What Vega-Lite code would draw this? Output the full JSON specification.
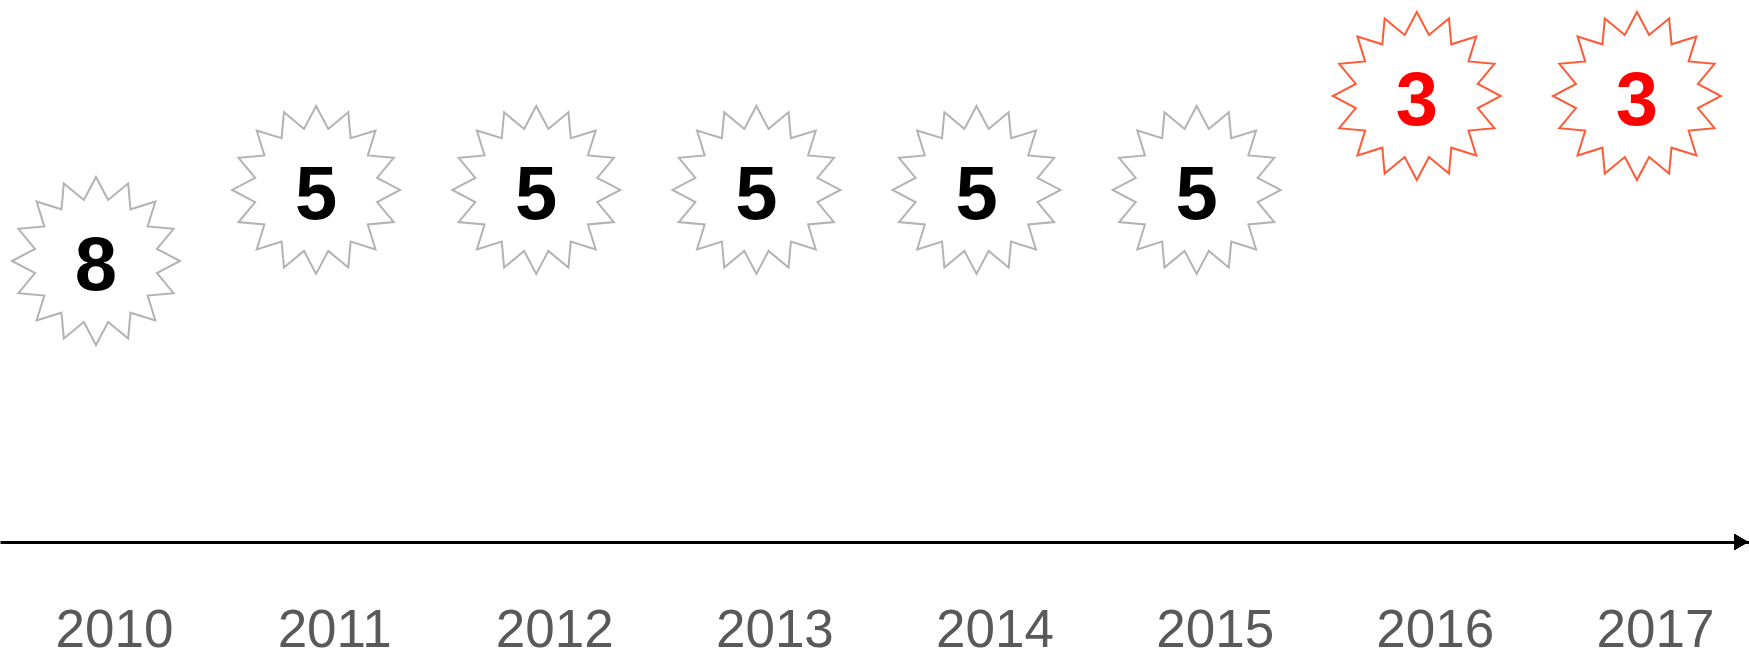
{
  "$schema": "https://vega.github.io/schema/vega-lite/v6.json",
  "width": 1749,
  "height": 542,
  "padding": 0,
  "background": "white",
  "config": {"view": {"stroke": null}},
  "data": {"values": [
    {"year": 2010, "value": 8},
    {"year": 2011, "value": 5},
    {"year": 2012, "value": 5},
    {"year": 2013, "value": 5},
    {"year": 2014, "value": 5},
    {"year": 2015, "value": 5},
    {"year": 2016, "value": 3},
    {"year": 2017, "value": 3}
  ]},
  "layer": [
    {
      "mark": {
        "type": "point",
        "shape": "M0,-1L0.1444,-0.7258L0.3827,-0.9239L0.4111,-0.6153L0.7071,-0.7071L0.6153,-0.4111L0.9239,-0.3827L0.7258,-0.1444L1,0L0.7258,0.1444L0.9239,0.3827L0.6153,0.4111L0.7071,0.7071L0.4111,0.6153L0.3827,0.9239L0.1444,0.7258L0,1L-0.1444,0.7258L-0.3827,0.9239L-0.4111,0.6153L-0.7071,0.7071L-0.6153,0.4111L-0.9239,0.3827L-0.7258,0.1444L-1,0L-0.7258,-0.1444L-0.9239,-0.3827L-0.6153,-0.4111L-0.7071,-0.7071L-0.4111,-0.6153L-0.3827,-0.9239L-0.1444,-0.7258Z",
        "size": 28224,
        "filled": false,
        "strokeWidth": 2,
        "opacity": 1
      },
      "encoding": {
        "x": {
          "field": "year",
          "type": "quantitative",
          "scale": {"domain": [2009.564, 2017.509], "nice": false, "zero": false},
          "axis": {
            "values": [2010, 2011, 2012, 2013, 2014, 2015, 2016, 2017],
            "format": "d",
            "title": null,
            "grid": false,
            "ticks": false,
            "tickSize": 0,
            "domainColor": "#000000",
            "domainWidth": 3.2,
            "labelFont": "Liberation Sans",
            "labelFontSize": 53,
            "labelColor": "#595959",
            "labelBaseline": "alphabetic",
            "labelPadding": 104,
            "labelOffset": 18,
            "labelFlush": false,
            "labelOverlap": false
          }
        },
        "y": {
          "field": "value",
          "type": "quantitative",
          "scale": {"type": "pow", "exponent": -0.4, "domain": [3, 8], "range": [96, 261], "nice": false, "zero": false},
          "axis": null
        },
        "stroke": {
          "field": "value",
          "type": "nominal",
          "scale": {"domain": [8, 5, 3], "range": ["#b3b3b3", "#b3b3b3", "#ff5a36"]},
          "legend": null
        }
      }
    },
    {
      "mark": {
        "type": "text",
        "font": "Liberation Sans",
        "fontWeight": "bold",
        "fontSize": 76,
        "align": "center",
        "baseline": "middle",
        "dy": 6
      },
      "encoding": {
        "x": {"field": "year", "type": "quantitative"},
        "y": {"field": "value", "type": "quantitative"},
        "text": {"field": "value", "type": "nominal"},
        "color": {
          "field": "value",
          "type": "nominal",
          "scale": {"domain": [8, 5, 3], "range": ["#000000", "#000000", "#ff0000"]},
          "legend": null
        }
      }
    },
    {
      "mark": {"type": "point", "shape": "triangle-right", "filled": true, "size": 256, "color": "#000000", "opacity": 1},
      "encoding": {
        "x": {"datum": 2017.473, "type": "quantitative"},
        "y": {"value": {"expr": "height"}}
      }
    }
  ]
}
